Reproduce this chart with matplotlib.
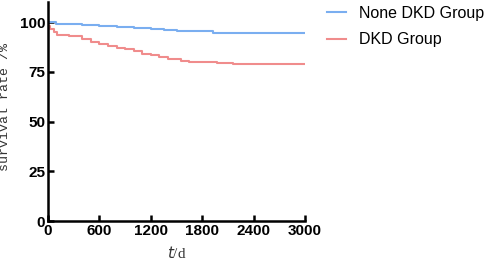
import matplotlib.pyplot as plt
import numpy as np

# survival curves
t_none = [0, 100, 250, 400, 600, 800, 1000, 1200, 1350, 1500, 1930, 3000]
s_none = [99.8, 99.2, 98.8, 98.4, 98.0, 97.6, 97.1, 96.5, 96.0, 95.6, 94.3, 94.3]

t_dkd = [0, 30, 70, 110, 250, 400, 500, 600, 700, 800, 900, 1000, 1100,
         1200, 1300, 1400, 1550, 1650, 1970, 2160, 3000]
s_dkd = [98, 96.5, 95, 93.5, 93, 91.5, 90, 89, 88, 87, 86.3, 85.2, 84,
         83.2, 82.3, 81.5, 80.5, 80.1, 79.6, 79.1, 79.1]

xticks = [0, 600, 1200, 1800, 2400, 3000]
yticks = [0, 25, 50, 75, 100]

fig = plt.figure(figsize=(4.89, 2.62), dpi=100)
ax = fig.add_axes([0.098, 0.156, 0.526, 0.836])

ax.step(t_none, s_none, where='post', color='#7aaef0', lw=1.5, label='None DKD Group')
ax.step(t_dkd, s_dkd, where='post', color='#f08c8c', lw=1.5, label='DKD Group')

ax.set_xlim(0, 3000)
ax.set_ylim(0, 110)
ax.set_xticks(xticks)
ax.set_yticks(yticks)
for lab in ax.get_xticklabels() + ax.get_yticklabels():
    lab.set_fontweight('bold')
    lab.set_fontfamily('Liberation Sans')
ax.tick_params(direction='in', length=4, width=1.8, labelsize=11, pad=2)
ax.spines['top'].set_visible(False)
ax.spines['right'].set_visible(False)
for sp in ['left', 'bottom']:
    ax.spines[sp].set_linewidth(1.8)

ax.set_ylabel('survival rate /%', family='Liberation Mono', fontsize=9.5, color='#333333')
ax.yaxis.set_label_coords(-0.145, 0.52)
ax.set_xlabel('$\\it{t}$/d', family='Liberation Serif', fontsize=11, color='#333333', labelpad=5)

ax.legend(loc='upper left', bbox_to_anchor=(1.03, 1.05), frameon=False,
          prop={'family': 'Liberation Sans', 'size': 11.5}, handlelength=1.2,
          handletextpad=0.8, labelspacing=0.75)

plt.savefig('out.png', dpi=100)
